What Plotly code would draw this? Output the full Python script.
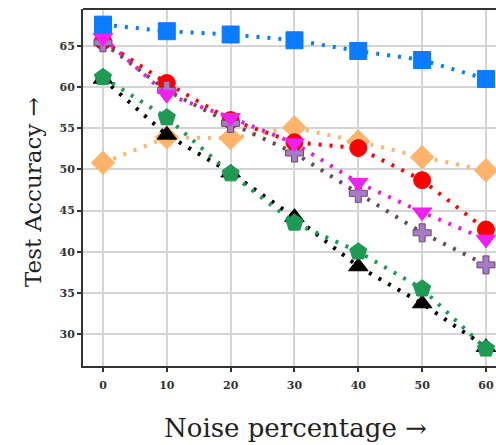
import plotly.graph_objects as go

noise = [0, 10, 20, 30, 40, 50, 60]

s_orange = [50.8, 53.9, 53.8, 55.1, 53.4, 51.5, 49.9]
s_red = [65.6, 60.5, 56.0, 53.3, 52.6, 48.7, 42.7]
s_black = [61.0, 54.2, 49.6, 44.2, 38.2, 33.7, 28.4]
s_purple = [65.4, 59.6, 55.6, 52.0, 47.1, 42.3, 38.4]
s_magenta = [66.0, 59.1, 56.3, 53.2, 48.4, 44.8, 41.5]
s_green = [61.2, 56.3, 49.5, 43.5, 40.0, 35.5, 28.2]
s_blue = [67.6, 66.8, 66.4, 65.7, 64.4, 63.3, 61.0]

x_ticks = [0, 10, 20, 30, 40, 50, 60]
y_ticks = [30, 35, 40, 45, 50, 55, 60, 65]

series = [
    (s_orange, "#ffb36b", "diamond", "#ffb36b", 18),
    (s_red, "#ff0000", "circle", "#ff0000", 17),
    (s_black, "#000000", "triangle-up", "#000000", 17),
    (s_purple, "#6b4a5e", "cross", "#a77bc8", 15),
    (s_magenta, "#e020e0", "triangle-down", "#f020f0", 17),
    (s_green, "#1f9a55", "pentagon", "#1f9a55", 18),
    (s_blue, "#0a7cff", "square", "#0a7cff", 17),
]

fig = go.Figure()
for ys, lc, sym, mc, ms in series:
    fig.add_trace(go.Scatter(
        x=noise, y=ys, mode="lines+markers",
        line=dict(color=lc, width=4, dash="3px,8px"),
        marker=dict(symbol=sym, color=mc, size=ms,
                    line=dict(color=lc if sym == "cross" else mc, width=1)),
        showlegend=False,
    ))

axis_font = dict(family="DejaVu Serif", size=11, color="#333333", weight="bold")
fig.update_xaxes(
    range=[-3.13, 61.57], tickvals=x_ticks, ticktext=[str(v) for v in x_ticks],
    showgrid=True, gridcolor="#d4d4d4", gridwidth=1.5,
    showline=True, linecolor="#333333", linewidth=2, mirror=False,
    ticks="outside", ticklen=4, tickcolor="#333333", tickwidth=1.5,
    tickfont=axis_font, zeroline=False, ticklabelstandoff=4,
)
fig.update_yaxes(
    range=[26.11, 69.5], tickvals=y_ticks, ticktext=[str(v) for v in y_ticks],
    showgrid=True, gridcolor="#d4d4d4", gridwidth=1.5,
    showline=True, linecolor="#333333", linewidth=2, mirror=False,
    ticks="outside", ticklen=4, tickcolor="#333333", tickwidth=1.5,
    tickfont=axis_font, zeroline=False,
)

fig.add_shape(type="line", xref="paper", yref="paper", x0=0, x1=1, y0=1, y1=1,
              line=dict(color="#333333", width=2))

fig.add_annotation(text="Noise percentage →", xref="paper", yref="paper",
                   x=(295 - 83) / 413, y=-(428 - 366) / 357, showarrow=False,
                   font=dict(family="DejaVu Serif", size=26, color="#222222"),
                   xanchor="center", yanchor="middle")
fig.add_annotation(text="Test Accuracy →", xref="paper", yref="paper",
                   x=-(83 - 33) / 413, y=(366 - 192) / 357, showarrow=False,
                   textangle=-90,
                   font=dict(family="DejaVu Serif", size=23, color="#222222"),
                   xanchor="center", yanchor="middle")

fig.update_layout(
    width=496, height=445,
    margin=dict(l=83, r=0, t=9, b=79),
    paper_bgcolor="white", plot_bgcolor="white",
)

fig.write_html("out.html")
